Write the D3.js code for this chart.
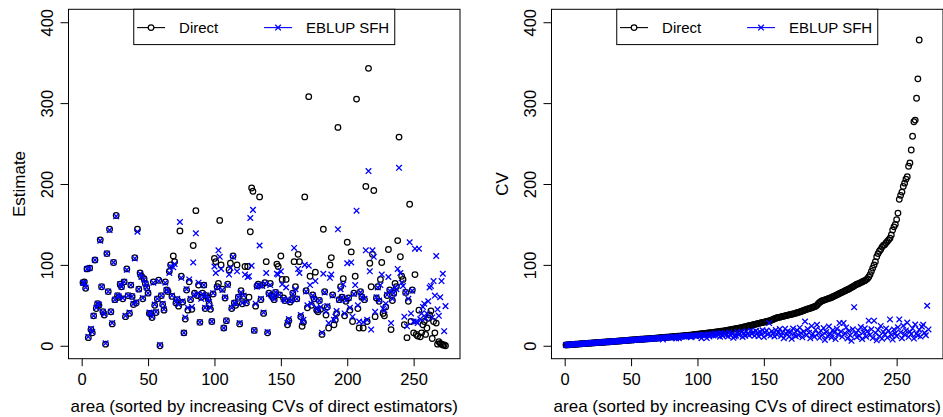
<!DOCTYPE html>
<html>
<head>
<meta charset="utf-8">
<script src="https://cdn.jsdelivr.net/npm/d3@7"></script>
<style>
body { margin: 0; background: #fff; }
svg text { font-family: "Liberation Sans", Arial, Helvetica, sans-serif; }
</style>
</head>
<body>
<div id="myDiv"></div>
<script>
// areas are sorted by increasing CV of the direct estimator (1..274)
var directEst = [
78,79,71,95,10,96,20,16,37,106,
46,52,50,131,73,42,38,2,114,67,
144,42,27,103,57,161,62,60,76,73,
58,79,36,95,62,40,75,61,51,109,
53,144,70,90,86,58,83,77,72,65,
40,40,35,79,50,41,58,81,0,62,
51,44,79,69,67,92,100,61,111,104,
53,57,49,142,86,54,16,33,69,44,
79,57,45,124,65,167,62,75,29,60,
65,75,46,62,59,52,45,30,64,108,
104,73,77,155,100,70,22,59,31,76,
94,102,46,111,53,50,100,60,27,68,
52,61,98,53,98,60,141,195,191,19,
49,74,76,184,57,75,40,78,104,16,
65,77,62,60,57,66,101,98,63,111,
82,59,56,82,26,31,54,57,65,104,
73,58,113,104,36,24,29,184,68,47,
308,86,50,63,58,91,44,42,56,45,
14,144,67,38,48,22,100,109,63,26,
32,40,270,57,73,60,83,37,55,128,
59,44,116,30,65,86,305,46,22,67,
60,22,57,197,30,343,102,73,113,192,
36,59,73,55,82,103,40,37,48,62,
119,69,20,56,65,77,73,130,258,110,
86,82,26,66,10,55,175,30,69,16,
88,14,12,44,11,16,26,30,14,22,
34,38,43,9,30,16,28,2,5,3,
2,1,1,0
];

var eblupEst = [
78,78,72,95,11,96,21,17,37,106,
47,52,51,130,73,42,39,3,114,67,
143,42,28,103,57,160,62,61,76,73,
59,79,37,94,62,41,75,61,52,108,
54,141,70,89,85,59,82,77,72,65,
41,40,36,78,51,42,58,80,1,62,
52,45,78,69,67,90,98,62,97,101,
54,58,51,153,84,55,16,35,70,47,
82,58,48,103,63,139,64,78,29,58,
64,75,47,62,58,54,47,30,65,98,
90,72,118,110,95,69,22,60,31,75,
88,96,47,110,53,52,92,60,28,66,
53,62,88,54,85,86,158,99,168,19,
52,73,75,124,58,74,41,77,90,17,
64,75,62,60,58,66,89,88,63,92,
76,58,56,72,28,33,55,57,64,121,
70,58,95,90,38,30,32,100,67,50,
99,75,52,62,58,80,47,44,56,48,
16,89,66,42,49,28,84,88,62,32,
36,43,144,57,70,60,76,40,56,102,
59,47,103,36,64,75,167,50,30,66,
60,29,58,118,32,216,92,20,118,110,
42,60,72,56,75,88,46,44,52,63,
85,68,28,58,65,72,70,95,220,90,
78,74,36,66,24,58,128,40,68,30,
120,30,28,120,33,40,48,52,34,40,
55,72,74,35,80,62,111,45,37,60,
80,89,18,49
];

var directCV = [
1.0,1.1,1.3,1.4,1.5,1.7,1.8,1.9,2.0,2.1,
2.3,2.4,2.5,2.6,2.7,2.9,3.0,3.1,3.2,3.3,
3.5,3.6,3.7,3.8,3.9,4.1,4.2,4.3,4.4,4.5,
4.7,4.8,4.9,5.0,5.1,5.3,5.4,5.5,5.6,5.8,
5.9,6.0,6.1,6.3,6.4,6.5,6.7,6.8,7.0,7.1,
7.2,7.3,7.5,7.6,7.7,7.8,8.0,8.1,8.2,8.3,
8.5,8.6,8.7,8.8,9.0,9.1,9.2,9.4,9.5,9.6,
9.8,9.9,10.0,10.2,10.3,10.5,10.6,10.7,10.9,11.0,
11.2,11.3,11.5,11.6,11.7,11.9,12.0,12.2,12.3,12.5,
12.6,12.8,12.9,13.1,13.2,13.4,13.6,13.8,14.0,14.2,
14.4,14.6,14.8,15.0,15.2,15.4,15.6,15.8,16.0,16.2,
16.4,16.6,16.8,17.0,17.2,17.4,17.6,17.9,18.1,18.4,
18.7,19.0,19.3,19.6,19.9,20.2,20.5,20.8,21.1,21.4,
21.7,22.0,22.4,22.8,23.2,23.6,24.0,24.4,24.8,25.2,
25.6,26.0,26.4,26.8,27.2,27.6,28.0,28.4,28.8,29.2,
29.6,30.0,30.4,30.8,31.2,31.8,32.6,33.4,34.0,34.6,
35.0,35.4,35.8,36.2,36.6,37.0,37.4,37.8,38.2,38.6,
39.0,39.4,39.8,40.3,40.8,41.3,41.8,42.4,43.0,43.6,
44.2,44.8,45.4,46.0,46.4,47.0,47.6,48.2,48.8,50.0,
52.0,53.5,54.8,55.6,56.2,56.8,57.4,58.0,58.6,59.0,
59.8,60.6,61.4,62.2,63.0,63.8,64.6,65.4,66.2,67.0,
67.8,68.6,69.4,70.2,71.0,72.0,73.0,74.0,75.0,76.0,
76.5,77.3,78.1,78.9,79.7,80.5,81.5,83.0,85.0,88.0,
92.0,96.0,100.0,104.0,110.0,114.0,117.0,119.0,122.0,124.0,
125.0,127.0,129.0,131.0,133.0,137.0,143.0,147.0,150.0,156.0,
164.0,181.0,186.0,190.0,197.0,201.0,206.0,209.0,222.0,226.0,
242.0,259.0,277.0,279.0,306.0,330.0,378.0,455.0,530.0,640.0,
820.0,1100.0,1900.0,4200.0
];

var eblupCV = [
1.0,1.1,1.3,1.4,1.5,1.6,1.8,1.9,2.0,2.1,
2.2,2.4,2.5,2.6,2.7,2.8,3.0,3.1,3.2,3.3,
3.4,3.6,3.7,3.8,3.9,4.0,4.2,4.3,4.4,4.5,
4.6,4.8,4.9,5.0,5.1,5.2,5.4,5.5,5.6,5.7,
5.8,6.0,6.1,6.2,6.3,6.4,6.6,6.7,6.8,6.9,
7.0,7.2,7.3,7.4,7.5,7.6,7.8,7.9,8.0,8.1,
8.2,8.4,8.5,8.5,8.8,8.9,9.0,9.1,9.3,9.2,
9.4,9.6,9.7,7.6,9.9,10.0,10.2,10.2,10.4,9.8,
10.4,10.8,10.9,9.0,11.0,9.3,11.4,11.0,11.7,11.6,
11.9,11.8,12.2,12.0,10.5,11.6,12.6,12.5,11.9,13.2,
13.0,12.4,9.4,12.8,13.6,12.9,9.5,14.1,11.5,13.4,
13.9,12.7,15.0,12.9,15.0,13.8,11.2,15.4,12.2,14.6,
15.6,14.0,11.5,16.4,12.8,15.2,9.8,11.6,12.7,16.9,
13.6,14.8,17.3,10.9,16.0,12.4,17.8,14.3,12.9,18.5,
14.7,16.9,12.3,18.6,15.2,11.9,17.6,13.8,19.1,10.8,
16.4,18.9,14.0,28.0,12.6,17.9,15.1,11.5,19.6,13.7,
17.3,20.6,12.1,16.2,9.4,20.9,14.6,18.0,11.3,16.8,
8.6,21.3,14.9,11.8,19.2,13.1,22.4,15.8,10.4,17.5,
30.0,12.9,20.8,16.1,9.2,24.3,14.6,11.1,19.7,26.0,
15.1,9.8,18.5,13.3,21.9,7.1,17.0,12.2,23.8,14.5,
10.2,19.4,16.3,8.3,21.0,13.9,28.0,17.7,11.0,28.0,
15.6,22.7,9.0,18.2,13.0,6.1,20.4,47.7,14.8,10.6,
19.0,12.5,23.1,8.4,16.7,21.5,11.3,17.9,31.0,13.4,
20.3,9.5,31.0,15.9,6.7,19.6,12.0,24.5,8.8,17.1,
14.1,21.2,10.0,18.4,32.6,13.2,7.6,20.1,15.5,11.9,
22.8,32.6,16.6,9.3,24.7,13.8,19.0,28.6,10.7,17.2,
14.4,21.6,8.9,26.3,15.0,12.6,19.8,11.4,23.5,26.0,
16.1,13.0,49.5,20.2
];

var xTicks = [0, 50, 100, 150, 200, 250];
var yTicks = [0, 100, 200, 300, 400];
var legendLabels = ["Direct", "EBLUP SFH"];
var xTitle = "area (sorted by increasing CVs of direct estimators)";

var nAreas = directEst.length;
var blue = "#0000ff";

let svgContainer = d3.select("#myDiv").append("svg")
    .attr("width", 943)
    .attr("height", 417);

function crossPath(cx, cy, s){
    return "M" + (cx - s) + "," + (cy - s) + "L" + (cx + s) + "," + (cy + s) +
           "M" + (cx - s) + "," + (cy + s) + "L" + (cx + s) + "," + (cy - s);
}

function drawPanel(left, yTitle, dirVals, ebVals, id){
    var top = 9.3, w = 391.5, h = 349.4;

    // R style: extend range by 4% each side
    var pad = 0.04 * (nAreas - 1);
    var x = d3.scaleLinear().domain([1 - pad, nAreas + pad]).range([left, left + w]);
    var y = d3.scaleLinear().domain([-16, 416]).range([top + h, top]);

    svgContainer.append("clipPath").attr("id", id)
        .append("rect")
        .attr("x", left).attr("y", top)
        .attr("width", w).attr("height", h);

    var plotArea = svgContainer.append("g").attr("clip-path", "url(#" + id + ")");

    plotArea.selectAll("circle")
        .data(dirVals)
        .enter()
        .append("circle")
        .attr("cx", function(d, i){ return x(i + 1); })
        .attr("cy", function(d){ return y(d); })
        .attr("r", 2.8)
        .attr("fill", "none")
        .attr("stroke", "black")
        .attr("stroke-width", 1.25);

    plotArea.selectAll("path.eb")
        .data(ebVals)
        .enter()
        .append("path")
        .attr("class", "eb")
        .attr("d", function(d, i){ return crossPath(x(i + 1), y(d), 2.8); })
        .attr("stroke", blue)
        .attr("stroke-width", 1.3)
        .attr("fill", "none");

    // axes
    var xAxis = svgContainer.append("g")
        .attr("transform", "translate(0," + (top + h) + ")")
        .call(d3.axisBottom(x).tickValues(xTicks).tickSize(7.5).tickSizeOuter(0));
    xAxis.select(".domain").remove();
    xAxis.selectAll("text")
        .attr("y", 26.3)
        .attr("dy", 0)
        .attr("font-size", 16.5)
        .attr("fill", "black")
        .attr("font-family", "Liberation Sans, Arial, sans-serif");

    var yAxis = svgContainer.append("g")
        .attr("transform", "translate(" + left + ",0)")
        .call(d3.axisLeft(y).tickValues(yTicks).tickSize(8).tickSizeOuter(0));
    yAxis.select(".domain").remove();
    yAxis.selectAll("text")
        .attr("transform", "rotate(-90)")
        .attr("x", 0)
        .attr("y", -15.2)
        .attr("dy", 0)
        .attr("text-anchor", "middle")
        .attr("font-size", 16.5)
        .attr("fill", "black")
        .attr("font-family", "Liberation Sans, Arial, sans-serif");

    // box
    svgContainer.append("rect")
        .attr("x", left).attr("y", top)
        .attr("width", w).attr("height", h)
        .attr("fill", "none")
        .attr("stroke", "black")
        .attr("stroke-width", 1);

    svgContainer.append("text")
        .attr("x", left + w / 2)
        .attr("y", 412)
        .attr("text-anchor", "middle")
        .attr("font-size", 17)
        .text(xTitle);

    svgContainer.append("text")
        .attr("transform", "translate(" + (left - 43.5) + "," + (top + h / 2) + ") rotate(-90)")
        .attr("text-anchor", "middle")
        .attr("font-size", 17)
        .text(yTitle);

    // legend, centered at top
    var lg = svgContainer.append("g")
        .attr("transform", "translate(" + (left + w / 2 - 130.5) + "," + top + ")");
    lg.append("rect")
        .attr("x", 0).attr("y", 0)
        .attr("width", 261).attr("height", 35.3)
        .attr("fill", "white")
        .attr("stroke", "black")
        .attr("stroke-width", 1);

    var keyX = [3.3, 130.3];
    var keyCol = ["black", blue];
    lg.selectAll("line.key")
        .data(legendLabels)
        .enter()
        .append("line")
        .attr("class", "key")
        .attr("x1", function(d, i){ return keyX[i]; })
        .attr("x2", function(d, i){ return keyX[i] + 28; })
        .attr("y1", 18.3).attr("y2", 18.3)
        .attr("stroke", function(d, i){ return keyCol[i]; })
        .attr("stroke-width", 1.1);

    lg.append("circle")
        .attr("cx", keyX[0] + 14).attr("cy", 18.3).attr("r", 2.8)
        .attr("fill", "white").attr("stroke", "black").attr("stroke-width", 1.25);

    lg.append("path")
        .attr("d", crossPath(keyX[1] + 14, 18.3, 2.8))
        .attr("stroke", blue).attr("stroke-width", 1.3);

    lg.selectAll("text")
        .data(legendLabels)
        .enter()
        .append("text")
        .attr("x", function(d, i){ return keyX[i] + 42; })
        .attr("y", 24)
        .attr("font-size", 15)
        .text(function(d){ return d; });
}

drawPanel(68.5, "Estimate", directEst, eblupEst, "clipL");
drawPanel(551.5, "CV", directCV, eblupCV, "clipR");
</script>
</body>
</html>
